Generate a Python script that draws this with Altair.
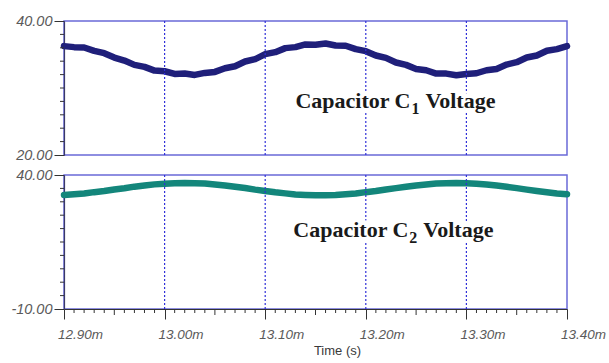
import altair as alt
import pandas as pd

# ---- data ----
time_ms = [12.90, 12.91, 12.92, 12.93, 12.94, 12.95, 12.96, 12.97, 12.98, 12.99,
           13.00, 13.01, 13.02, 13.03, 13.04, 13.05, 13.06, 13.07, 13.08, 13.09,
           13.10, 13.11, 13.12, 13.13, 13.14, 13.15, 13.16, 13.17, 13.18, 13.19,
           13.20, 13.21, 13.22, 13.23, 13.24, 13.25, 13.26, 13.27, 13.28, 13.29,
           13.30, 13.31, 13.32, 13.33, 13.34, 13.35, 13.36, 13.37, 13.38, 13.39,
           13.40]

vc1 = [36.25, 36.10, 36.05, 35.55, 35.20, 34.55, 34.10, 33.45, 33.15, 32.60,
       32.50, 32.10, 32.15, 31.95, 32.25, 32.40, 32.95, 33.25, 33.95, 34.30,
       35.05, 35.35, 35.95, 36.10, 36.50, 36.45, 36.65, 36.35, 36.30, 35.80,
       35.50, 34.85, 34.50, 33.80, 33.45, 32.85, 32.65, 32.15, 32.15, 31.90,
       32.10, 32.20, 32.65, 32.85, 33.50, 33.85, 34.55, 34.85, 35.55, 35.80,
       36.25]

vc2 = [32.50, 32.80, 33.10, 33.60, 34.00, 34.60, 35.05, 35.65, 36.05, 36.50,
       36.75, 36.95, 37.00, 36.95, 36.80, 36.45, 36.10, 35.60, 35.15, 34.55,
       34.05, 33.55, 33.15, 32.75, 32.55, 32.40, 32.45, 32.50, 32.80, 33.10,
       33.60, 34.00, 34.60, 35.10, 35.60, 36.10, 36.45, 36.80, 36.95, 37.05,
       36.95, 36.75, 36.45, 36.05, 35.60, 35.10, 34.55, 34.05, 33.55, 33.10,
       32.80]

x_major = [12.90, 13.00, 13.10, 13.20, 13.30, 13.40]
x_grid = [13.00, 13.10, 13.20, 13.30]
x_minor = [12.91, 12.92, 12.93, 12.94, 12.96, 12.97, 12.98, 12.99,
           13.01, 13.02, 13.03, 13.04, 13.06, 13.07, 13.08, 13.09,
           13.11, 13.12, 13.13, 13.14, 13.16, 13.17, 13.18, 13.19,
           13.21, 13.22, 13.23, 13.24, 13.26, 13.27, 13.28, 13.29,
           13.31, 13.32, 13.33, 13.34, 13.36, 13.37, 13.38, 13.39]
x_mid = [12.95, 13.05, 13.15, 13.25, 13.35]

y1_major = [20, 40]
y1_minor = [22, 24, 26, 28, 30, 32, 34, 36, 38]
y2_major = [-10, 40]
y2_minor = [-5, 0, 5, 10, 15, 20, 25, 30, 35]

label1_t = [13.13]
label1_v = [26.97]
label2_t = [13.128]
label2_v = [16.9]

W, H = 503, 134
xs = alt.Scale(domain=[12.90, 13.40], nice=False, zero=False)

YLABEL = "datum.value < 0 ? '-' + format(-datum.value, '.2f') : format(datum.value, '.2f')"

axis_style = dict(
    labelFont="Liberation Sans", labelFontStyle="italic", labelFontSize=14.5,
    labelColor="#5a5a5a", tickSize=10, tickColor="#333333", tickWidth=1,
    domainColor="#3a3a66", domainWidth=1.2, labelPadding=2, grid=False, title=None,
    labelExpr=YLABEL,
)

SERIF = "Liberation Serif"


def label_layers(ts, vs, sub):
    d = pd.DataFrame({"t": ts, "v": vs})
    enc = dict(x=alt.X("t:Q"), y=alt.Y("v:Q"))
    common = dict(align="left", baseline="alphabetic", font=SERIF, fontWeight="bold")
    halo = [
        alt.Chart(d).mark_text(text="Capacitor C", fontSize=22, stroke="white",
                               strokeWidth=9, fill="white", **common).encode(**enc),
        alt.Chart(d).mark_text(text=sub, fontSize=16, dx=116, dy=6, stroke="white",
                               strokeWidth=9, fill="white", **common).encode(**enc),
        alt.Chart(d).mark_text(text="Voltage", fontSize=22, dx=130, stroke="white",
                               strokeWidth=9, fill="white", **common).encode(**enc),
    ]
    txt = [
        alt.Chart(d).mark_text(text="Capacitor C", fontSize=22, color="#1a1a1a",
                               **common).encode(**enc),
        alt.Chart(d).mark_text(text=sub, fontSize=16, dx=116, dy=6, color="#1a1a1a",
                               **common).encode(**enc),
        alt.Chart(d).mark_text(text="Voltage", fontSize=22, dx=130, color="#1a1a1a",
                               **common).encode(**enc),
    ]
    return halo, txt


def grid_layer():
    return alt.Chart(pd.DataFrame({"t": x_grid})).mark_rule(
        color="#3030d8", strokeDash=[2, 2], strokeWidth=1.2
    ).encode(x=alt.X("t:Q"))


def y_minor_layer(vals):
    return alt.Chart(pd.DataFrame({"v": vals})).mark_rule(
        color="#333333", strokeWidth=1
    ).encode(y=alt.Y("v:Q"), x=alt.value(-4), x2=alt.value(0))


# ---- top panel ----
df1 = pd.DataFrame({"t": time_ms, "v": vc1})
ys1 = alt.Scale(domain=[20, 40], nice=False, zero=False)
line1 = alt.Chart(df1).mark_line(
    color="#1f1f7a", strokeWidth=6.5, strokeJoin="round", strokeCap="round"
).encode(
    x=alt.X("t:Q", scale=xs, axis=None),
    y=alt.Y("v:Q", scale=ys1, axis=alt.Axis(values=y1_major, **axis_style)),
)
h1, t1 = label_layers(label1_t, label1_v, "1")
top = alt.layer(line1, grid_layer(), *h1, y_minor_layer(y1_minor), *t1).properties(
    width=W, height=H
)

# ---- bottom panel ----
df2 = pd.DataFrame({"t": time_ms, "v": vc2})
ys2 = alt.Scale(domain=[-10, 40], nice=False, zero=False)
line2 = alt.Chart(df2).mark_line(
    color="#13867b", strokeWidth=6.5, strokeJoin="round", strokeCap="round"
).encode(
    x=alt.X(
        "t:Q", scale=xs,
        axis=alt.Axis(
            values=x_major, labelExpr="format(datum.value, '.2f') + 'm'",
            labelFont="Liberation Sans", labelFontStyle="italic", labelFontSize=13.5,
            labelColor="#5a5a5a", tickSize=10, tickColor="#333333",
            domainColor="#333333", domainWidth=1.2, labelPadding=8, labelOffset=16,
            labelFlush=False, labelOverlap=False, grid=False,
            title="Time (s)", titleFont="Liberation Sans", titleFontSize=13,
            titleFontWeight="normal", titleColor="#3a3a3a", titlePadding=4,
            titleX=273, titleAlign="center",
        ),
    ),
    y=alt.Y("v:Q", scale=ys2, axis=alt.Axis(values=y2_major, **axis_style)),
)
x_minor_layer = alt.Chart(pd.DataFrame({"t": x_minor})).mark_rule(
    color="#333333", strokeWidth=1
).encode(x=alt.X("t:Q"), y=alt.value(H), y2=alt.value(H + 4))
x_mid_layer = alt.Chart(pd.DataFrame({"t": x_mid})).mark_rule(
    color="#333333", strokeWidth=1
).encode(x=alt.X("t:Q"), y=alt.value(H), y2=alt.value(H + 6))
h2, t2 = label_layers(label2_t, label2_v, "2")
bottom = alt.layer(
    line2, grid_layer(), *h2, y_minor_layer(y2_minor), x_minor_layer, x_mid_layer, *t2
).properties(width=W, height=H)

chart = alt.vconcat(top, bottom, spacing=3).configure_view(
    stroke="#6a6ad8", strokeWidth=1.5
).properties(
    padding={"left": 10, "top": 12, "right": 2, "bottom": 2}, background="white"
)

chart.save("out.html", embed_options={"renderer": "svg", "actions": False})
